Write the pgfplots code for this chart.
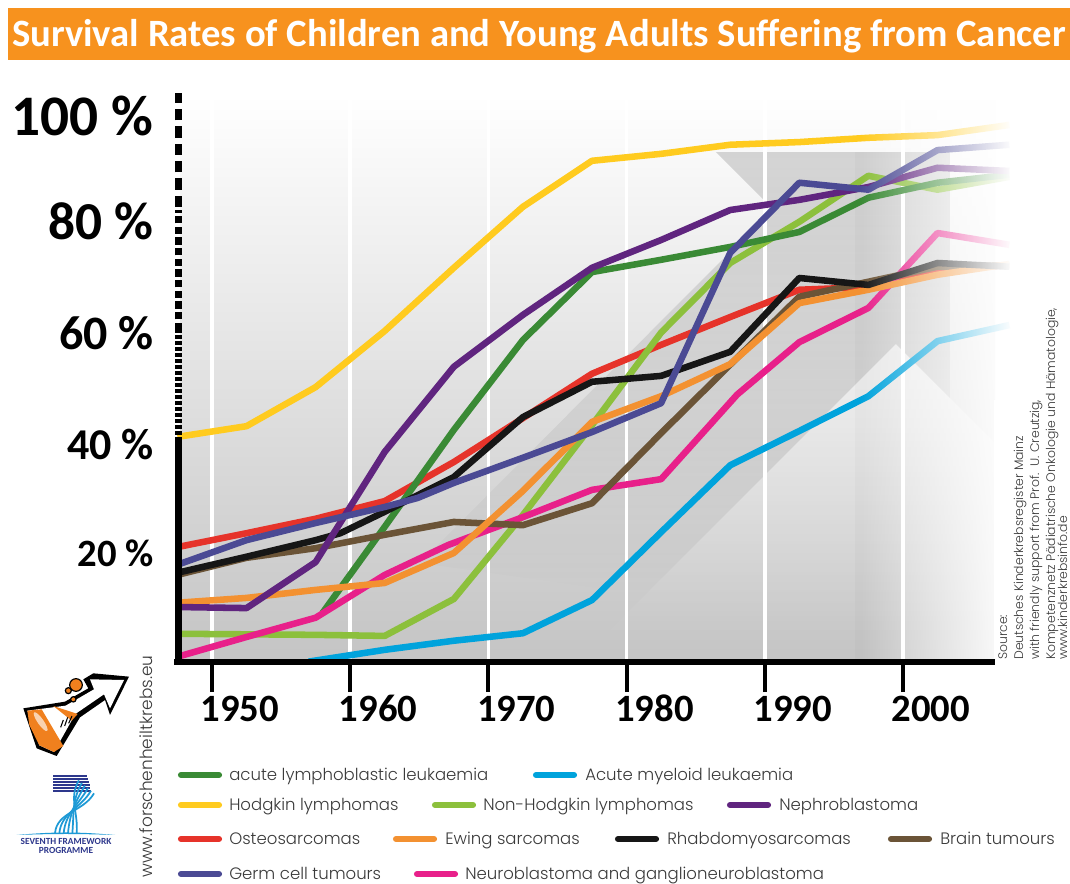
\documentclass[border=0pt]{standalone}
\usepackage{pgfplots}
\pgfplotsset{compat=1.18}
\usepackage{fontspec}
\setmainfont{Carlito}
\newfontfamily\lf{Poppins}[UprightFont=* Light]
\usetikzlibrary{fadings}
\tikzfading[name=fr,left color=transparent!100,right color=transparent!0]
\tikzfading[name=fd,top color=transparent!0,bottom color=transparent!100]
\definecolor{cALL}{HTML}{3A8A35}
\definecolor{cAML}{HTML}{00A3DC}
\definecolor{cHL}{HTML}{FFCB1F}
\definecolor{cNHL}{HTML}{8CC03C}
\definecolor{cNE}{HTML}{60257F}
\definecolor{cOS}{HTML}{E6332A}
\definecolor{cEW}{HTML}{F39131}
\definecolor{cRH}{HTML}{161616}
\definecolor{cBR}{HTML}{6B5437}
\definecolor{cGE}{HTML}{4B4A94}
\definecolor{cPI}{HTML}{E8208A}
\definecolor{legtx}{HTML}{3A3A3A}
\definecolor{ttl}{HTML}{F7921E}
\definecolor{flask}{HTML}{F0801E}
\definecolor{fpb}{HTML}{2D378C}
\definecolor{fpc}{HTML}{1E9AD6}
\tikzset{px/.style={x=.75pt,y=-.75pt,shift={(0pt,663pt)}},
  ser/.style={line width=4.9pt,line join=round}}
\begin{document}
\begin{tikzpicture}
\useasboundingbox (0pt,0pt) rectangle (802.5pt,663pt);
\fill[white] (0pt,0pt) rectangle (802.5pt,663pt);
\begin{scope}[px]
\fill[ttl] (8,8) rectangle (1070,60);
\node[text=white,font=\fontsize{29pt}{30pt}\bfseries\selectfont,inner sep=0] at (539,36) {Survival Rates of Children and Young Adults Suffering from Cancer};
\shade[top color=white,bottom color=black!23] (180,95) rectangle (995,660);
\fill[black,opacity=.15,path fading=fd] (950,152)--(716,152)--(773,209)--(420,563)--(645,595)--(896,344)--(950,398)--cycle;
\fill[white,opacity=.45,path fading=fd] (600,640)--(896,344)--(950,398)--(995,443)--(995,640)--cycle;
\fill[black,opacity=.02] (855,152) rectangle (903,660);
\end{scope}
\begin{axis}[
  at={(132.75pt,166.5pt)},anchor=south west,
  scale only axis,width=626.25pt,height=425.25pt,
  xmin=1947.47,xmax=2007.89,ymin=-0.374,ymax=105.6,
  axis x line*=bottom,axis y line*=left,
  y axis line style={draw=none},
  x axis line style={draw=none},
  tick align=outside,
  major tick length=22.5pt,
  xtick={1950,1960,1970,1980,1990,2000},
  xticklabels={1950,1960,1970,1980,1990,2000},
  ytick={20,40.2,61,81.9,101.7},
  yticklabels={
    {\fontsize{29pt}{30pt}\selectfont 20 \%},
    {\fontsize{33pt}{34pt}\selectfont 40 \%},
    {\fontsize{36pt}{37pt}\selectfont 60 \%},
    {\fontsize{40pt}{41pt}\selectfont 80 \%},
    {\fontsize{43pt}{44pt}\selectfont 100 \%}},
  y tick style={draw=none},
  x tick style={black,line width=3pt},
  xticklabel style={font=\fontsize{29pt}{30pt}\bfseries\selectfont,xshift=21pt,inner sep=3pt,text=black,text height=19pt,text depth=0pt},
  yticklabel style={font=\bfseries,xshift=5.25pt,inner sep=0pt,anchor=east,text=black},
  xmajorgrids,
  grid style={white,line width=2.6pt},
  clip=false,
  every axis plot/.append style={ser},
]
\addplot[cOS] coordinates {(1947.5,21.1)(1952.5,23.7)(1957.5,26.4)(1962.5,29.7)(1967.5,37.0)(1972.5,45.2)(1977.5,53.5)(1982.5,58.9)(1987.5,64.1)(1992.5,69.2)(1997.5,69.7)(2002.5,72.9)(2007.7,73.8)};
\addplot[cAML] coordinates {(1957.0,-0.3)(1962.5,1.9)(1967.5,3.6)(1972.5,5.0)(1977.5,11.2)(1982.5,23.9)(1987.5,36.4)(1992.5,42.8)(1997.5,49.3)(2002.5,59.6)(2007.7,62.6)};
\addplot[cNHL] coordinates {(1947.5,4.9)(1952.5,4.8)(1957.5,4.7)(1962.5,4.5)(1967.5,11.4)(1972.5,27.1)(1977.5,43.9)(1982.5,61.2)(1987.5,74.2)(1992.5,81.9)(1997.5,90.5)(2002.5,87.9)(2007.7,90.3)};
\addplot[cALL] coordinates {(1958.0,8.8)(1962.5,24.9)(1967.5,43.0)(1972.5,59.8)(1977.5,72.5)(1982.5,74.8)(1987.5,77.2)(1992.5,80.0)(1997.5,86.4)(2002.5,89.2)(2007.7,90.7)};
\addplot[cPI] coordinates {(1947.5,0.6)(1952.5,4.3)(1957.5,7.9)(1962.5,15.9)(1967.1,21.5)(1972.5,26.7)(1977.5,31.8)(1982.5,33.8)(1988,49.6)(1992.5,59.4)(1997.5,65.8)(2002.5,79.8)(2007.7,77.6)};
\addplot[cBR] coordinates {(1947.5,15.9)(1952.5,19.1)(1957.5,20.9)(1962.5,23.4)(1967.5,25.8)(1972.5,25.2)(1977.5,29.3)(1982.5,42.4)(1987.5,55.2)(1992.5,67.9)(1997.5,70.7)(2002.5,73.5)(2007.7,73.8)};
\addplot[cEW] coordinates {(1947.5,10.7)(1952.5,11.6)(1957.5,13.1)(1962.5,14.4)(1967.5,20.0)(1972.5,31.6)(1977.5,44.5)(1982.5,49.3)(1987.5,55.3)(1992.5,66.7)(1997.5,69.2)(2002.5,72.0)(2007.7,74.0)};
\addplot[cRH] coordinates {(1947.5,16.3)(1952.5,19.3)(1957.5,22.4)(1959.3,23.7)(1962.5,27.7)(1967.5,34.2)(1972.5,45.4)(1977.5,52.0)(1982.5,53.1)(1987.5,57.6)(1992.5,71.4)(1997.5,70.1)(2002.5,74.2)(2007.7,73.5)};
\addplot[cNE] coordinates {(1947.5,9.9)(1952.5,9.7)(1957.5,18.3)(1962.5,38.9)(1967.5,54.8)(1972.5,64.5)(1977.5,73.3)(1982.5,78.5)(1987.5,84.1)(1992.5,86.0)(1997.5,88.4)(2002.5,92.0)(2007.7,91.4)};
\addplot[cGE] coordinates {(1947.5,17.8)(1952.5,22.4)(1957.5,25.6)(1962.5,28.6)(1964.9,30.3)(1967.5,33.1)(1972.5,37.8)(1977.5,42.6)(1982.5,48.0)(1987.5,76.1)(1992.5,89.2)(1997.5,87.9)(2002.5,95.3)(2007.7,96.3)};
\addplot[cHL] coordinates {(1947.5,41.7)(1952.5,43.7)(1957.5,51.0)(1962.5,61.5)(1967.5,73.3)(1972.5,84.7)(1977.5,93.3)(1982.5,94.6)(1987.5,96.3)(1992.5,96.8)(1997.5,97.6)(2002.5,98.1)(2007.7,100.0)};
\end{axis}
\begin{scope}[px]
\fill[white,path fading=fr] (860,60) rectangle (1013,659);
\fill[white] (994,400) rectangle (1014,659);
\fill[black] (174,659) rectangle (995,665);
\fill[black] (175,437) rectangle (182,665);
\draw[black,line width=5pt,dash pattern=on 3pt off 1.5pt] (178.5,435)--(178.5,330);
\draw[black,line width=5pt,dash pattern=on 5.4pt off 2.6pt] (178.5,330)--(178.5,210);
\draw[black,line width=5pt,dash pattern=on 8.6pt off 4.4pt] (178.5,207)--(178.5,93);
% legend
\foreach \x/\y/\c in {178/775/cALL,533/775/cAML,178/805/cHL,432/805/cNHL,727/805/cNE,178/839/cOS,393/839/cEW,615/839/cRH,888/839/cBR,178/874/cGE,414/874/cPI}
  \draw[\c,line width=4.6pt,line cap=round] (\x+3,\y)--(\x+41,\y);
\tikzset{lg/.style={anchor=base west,inner sep=0,text=legtx,font=\lf\fontsize{12.4pt}{13pt}\selectfont}}
\node[lg] at (229,781) {acute lymphoblastic leukaemia};
\node[lg] at (585,781) {Acute myeloid leukaemia};
\node[lg] at (229,811) {Hodgkin lymphomas};
\node[lg] at (483,811) {Non-Hodgkin lymphomas};
\node[lg] at (779,811) {Nephroblastoma};
\node[lg] at (229,845) {Osteosarcomas};
\node[lg] at (445,845) {Ewing sarcomas};
\node[lg] at (667,845) {Rhabdomyosarcomas};
\node[lg] at (940,845) {Brain tumours};
\node[lg] at (229,880) {Germ cell tumours};
\node[lg] at (465,880) {Neuroblastoma and ganglioneuroblastoma};
% rotated
\node[rotate=90,anchor=base west,inner sep=0,text=legtx,font=\lf\fontsize{12.7pt}{14pt}\selectfont] at (152,878) {www.forschenheiltkrebs.eu};
\tikzset{sr/.style={rotate=90,anchor=base west,inner sep=0,text=legtx,font=\lf\fontsize{9.3pt}{10pt}\selectfont}}
\node[sr] at (1007,660) {Source:};
\node[sr] at (1023,660) {Deutsches Kinderkrebsregister Mainz};
\node[sr] at (1039,660) {with friendly support from Prof.\ \ U. Creutzig,};
\node[sr] at (1055,660) {Kompetenznetz Pädiatrische Onkologie und Hämatologie,};
\node[sr] at (1067,660) {www.kinderkrebsinfo.de};
% flask logo
\begin{scope}[shift={(0,640)},x=.25pt,y=-.25pt]
\fill[black,line join=round] (70,205)--(195,185)--(265,145)--(250,118)--(280,100)--(387,110)--(330,225)--(315,180)--(240,232)--(170,348)--(110,325)--cycle;
\fill[white] (82,212)--(197,197)--(282,148)--(270,118)--(372,120)--(330,205)--(312,163)--(226,222)--(162,336)--(118,316)--cycle;
\fill[flask] (82,212)--(125,208)--(190,318)--(162,336)--(118,316)--(88,255)--cycle;
\fill[white,opacity=.65,rotate around={-55:(122,245)}] (122,245) ellipse (34 and 9);
\fill[flask] (160,198)--(233,222)--(215,242)--cycle;
\fill[flask,draw=black,line width=.9pt] (228,135) circle (19);
\fill[flask,draw=black,line width=.9pt] (205,152) circle (9);
\fill[flask,draw=black,line width=.9pt] (220,178) circle (8);
\draw[black,line width=.8pt] (190,240)--(182,262) (203,232)--(194,258) (216,228)--(206,250);
\end{scope}
% FP7 logo
\begin{scope}[shift={(0,640)},x=.25pt,y=-.25pt]
\foreach \y in {408,417,426,435,444,453}
  \draw[fpb,line width=1pt] (160,\y)--(262+\y/4-102,\y);
\foreach \d in {0,13,26,39,52,65}
  \draw[fpc,line width=1.3pt] (282-\d*.7,460-\d*.6) to[out=240,in=85] (165+\d,580);
\fill[fpc] (50,585) to[out=5,in=175] (345,585) to[out=178,in=2] cycle;
\node[text=fpb,font=\bfseries\fontsize{7pt}{7pt}\selectfont,inner sep=0] at (198,604) {SEVENTH FRAMEWORK};
\node[text=fpb,font=\bfseries\fontsize{7pt}{7pt}\selectfont,inner sep=0] at (198,630) {PROGRAMME};
\end{scope}
\end{scope}
\end{tikzpicture}
\end{document}
